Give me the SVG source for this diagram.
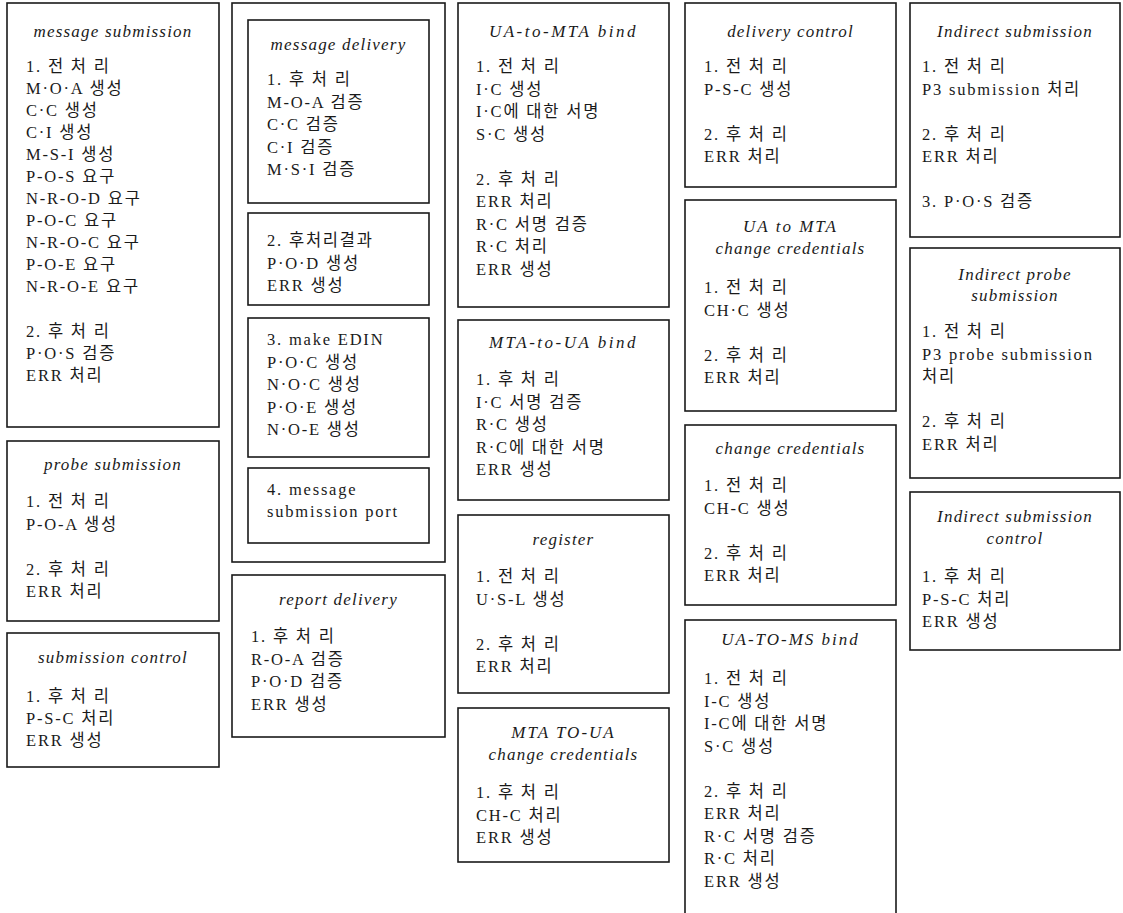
<svg xmlns="http://www.w3.org/2000/svg" width="1123" height="913" viewBox="0 0 1123 913">
<style>
.bx{fill:#fff;stroke:#1a1a1a;stroke-width:1.6}
.t{font-family:"Liberation Serif","Noto Sans CJK KR",serif;font-size:16.5px;fill:#1a1a1a;letter-spacing:1.8px}
.h{font-family:"Liberation Serif","Noto Sans CJK KR",serif;font-size:17px;font-style:italic;fill:#1a1a1a;text-anchor:middle;letter-spacing:1.2px}
</style>
<rect width="1123" height="913" fill="#fff"/>
<g id="connectors"/>

<g id="message-submission">
<rect class="bx" x="7" y="3" width="212" height="424"/>
<text class="h" x="113" y="37">message submission</text>
<text class="t" x="26" y="72">1. 전 처 리</text>
<text class="t" x="26" y="94">M·O·A 생성</text>
<text class="t" x="26" y="116">C·C 생성</text>
<text class="t" x="26" y="138">C·I 생성</text>
<text class="t" x="26" y="160">M-S-I 생성</text>
<text class="t" x="26" y="182">P-O-S 요구</text>
<text class="t" x="26" y="204">N-R-O-D 요구</text>
<text class="t" x="26" y="226">P-O-C 요구</text>
<text class="t" x="26" y="248">N-R-O-C 요구</text>
<text class="t" x="26" y="270">P-O-E 요구</text>
<text class="t" x="26" y="292">N-R-O-E 요구</text>
<text class="t" x="26" y="337">2. 후 처 리</text>
<text class="t" x="26" y="359">P·O·S 검증</text>
<text class="t" x="26" y="381">ERR 처리</text>
</g>

<g id="probe-submission">
<rect class="bx" x="7" y="441" width="212" height="180"/>
<text class="h" x="113" y="470">probe submission</text>
<text class="t" x="26" y="507">1. 전 처 리</text>
<text class="t" x="26" y="529.5">P-O-A 생성</text>
<text class="t" x="26" y="574.5">2. 후 처 리</text>
<text class="t" x="26" y="597">ERR 처리</text>
</g>

<g id="submission-control">
<rect class="bx" x="7" y="633" width="212" height="134"/>
<text class="h" x="113" y="663">submission control</text>
<text class="t" x="26" y="702">1. 후 처 리</text>
<text class="t" x="26" y="724">P-S-C 처리</text>
<text class="t" x="26" y="746">ERR 생성</text>
</g>

<g id="message-delivery-group">
<rect class="bx" x="232" y="3" width="213" height="559"/>
<g id="message-delivery">
<rect class="bx" x="248" y="20" width="181" height="183"/>
<text class="h" x="338.5" y="50">message delivery</text>
<text class="t" x="267" y="85">1. 후 처 리</text>
<text class="t" x="267" y="107.5">M-O-A 검증</text>
<text class="t" x="267" y="130">C·C 검증</text>
<text class="t" x="267" y="152.5">C·I 검증</text>
<text class="t" x="267" y="175">M·S·I 검증</text>
</g>
<g id="post-result">
<rect class="bx" x="248" y="213" width="181" height="92"/>
<text class="t" x="267" y="246">2. 후처리결과</text>
<text class="t" x="267" y="268.5">P·O·D 생성</text>
<text class="t" x="267" y="291">ERR 생성</text>
</g>
<g id="make-edin">
<rect class="bx" x="248" y="318" width="181" height="139"/>
<text class="t" x="267" y="345">3. make EDIN</text>
<text class="t" x="267" y="367.5">P·O·C 생성</text>
<text class="t" x="267" y="390">N·O·C 생성</text>
<text class="t" x="267" y="412.5">P·O·E 생성</text>
<text class="t" x="267" y="435">N·O-E 생성</text>
</g>
<g id="submission-port">
<rect class="bx" x="248" y="468" width="181" height="75"/>
<text class="t" x="267" y="495">4. message</text>
<text class="t" x="267" y="517">submission port</text>
</g>
</g>

<g id="report-delivery">
<rect class="bx" x="232" y="575" width="213" height="162"/>
<text class="h" x="338.5" y="605">report delivery</text>
<text class="t" x="251" y="642">1. 후 처 리</text>
<text class="t" x="251" y="665">R-O-A 검증</text>
<text class="t" x="251" y="687">P·O·D 검증</text>
<text class="t" x="251" y="710">ERR 생성</text>
</g>

<g id="ua-to-mta-bind">
<rect class="bx" x="458" y="3" width="211" height="304"/>
<text class="h" x="563.5" y="37" style="letter-spacing:2.5px">UA-to-MTA bind</text>
<text class="t" x="476" y="72">1. 전 처 리</text>
<text class="t" x="476" y="94.5">I·C 생성</text>
<text class="t" x="476" y="117">I·C에 대한 서명</text>
<text class="t" x="476" y="139.5">S·C 생성</text>
<text class="t" x="476" y="184.5">2. 후 처 리</text>
<text class="t" x="476" y="207">ERR 처리</text>
<text class="t" x="476" y="229.5">R·C 서명 검증</text>
<text class="t" x="476" y="252">R·C 처리</text>
<text class="t" x="476" y="274.5">ERR 생성</text>
</g>

<g id="mta-to-ua-bind">
<rect class="bx" x="458" y="320" width="211" height="180"/>
<text class="h" x="563.5" y="348" style="letter-spacing:2.5px">MTA-to-UA bind</text>
<text class="t" x="476" y="385">1. 후 처 리</text>
<text class="t" x="476" y="407.5">I·C 서명 검증</text>
<text class="t" x="476" y="430">R·C 생성</text>
<text class="t" x="476" y="452.5">R·C에 대한 서명</text>
<text class="t" x="476" y="475">ERR 생성</text>
</g>

<g id="register">
<rect class="bx" x="458" y="515" width="211" height="178"/>
<text class="h" x="563.5" y="545">register</text>
<text class="t" x="476" y="582">1. 전 처 리</text>
<text class="t" x="476" y="604.5">U·S-L 생성</text>
<text class="t" x="476" y="649.5">2. 후 처 리</text>
<text class="t" x="476" y="672">ERR 처리</text>
</g>

<g id="mta-to-ua-change-credentials">
<rect class="bx" x="458" y="708" width="211" height="154"/>
<text class="h" x="563.5" y="738" style="letter-spacing:2px">MTA TO-UA</text>
<text class="h" x="563.5" y="760">change credentials</text>
<text class="t" x="476" y="798">1. 후 처 리</text>
<text class="t" x="476" y="820.5">CH-C 처리</text>
<text class="t" x="476" y="843">ERR 생성</text>
</g>

<g id="delivery-control">
<rect class="bx" x="685" y="3" width="211" height="184"/>
<text class="h" x="790.5" y="37">delivery control</text>
<text class="t" x="704" y="72">1. 전 처 리</text>
<text class="t" x="704" y="94.5">P-S-C 생성</text>
<text class="t" x="704" y="139.5">2. 후 처 리</text>
<text class="t" x="704" y="162">ERR 처리</text>
</g>

<g id="ua-to-mta-change-credentials">
<rect class="bx" x="685" y="200" width="211" height="211"/>
<text class="h" x="790.5" y="232" style="letter-spacing:2px">UA to MTA</text>
<text class="h" x="790.5" y="254">change credentials</text>
<text class="t" x="704" y="293">1. 전 처 리</text>
<text class="t" x="704" y="315.5">CH·C 생성</text>
<text class="t" x="704" y="360.5">2. 후 처 리</text>
<text class="t" x="704" y="383">ERR 처리</text>
</g>

<g id="change-credentials">
<rect class="bx" x="685" y="425" width="211" height="180"/>
<text class="h" x="790.5" y="454">change credentials</text>
<text class="t" x="704" y="491">1. 전 처 리</text>
<text class="t" x="704" y="513.5">CH-C 생성</text>
<text class="t" x="704" y="558.5">2. 후 처 리</text>
<text class="t" x="704" y="581">ERR 처리</text>
</g>

<g id="ua-to-ms-bind">
<rect class="bx" x="685" y="620" width="211" height="310"/>
<text class="h" x="790.5" y="645" style="letter-spacing:2px">UA-TO-MS bind</text>
<text class="t" x="704" y="684">1. 전 처 리</text>
<text class="t" x="704" y="706.5">I-C 생성</text>
<text class="t" x="704" y="729">I-C에 대한 서명</text>
<text class="t" x="704" y="751.5">S·C 생성</text>
<text class="t" x="704" y="796.5">2. 후 처 리</text>
<text class="t" x="704" y="819">ERR 처리</text>
<text class="t" x="704" y="841.5">R·C 서명 검증</text>
<text class="t" x="704" y="864">R·C 처리</text>
<text class="t" x="704" y="886.5">ERR 생성</text>
</g>

<g id="indirect-submission">
<rect class="bx" x="910" y="3" width="210" height="234"/>
<text class="h" x="1015" y="37">Indirect submission</text>
<text class="t" x="922" y="72">1. 전 처 리</text>
<text class="t" x="922" y="94.5">P3 submission 처리</text>
<text class="t" x="922" y="139.5">2. 후 처 리</text>
<text class="t" x="922" y="162">ERR 처리</text>
<text class="t" x="922" y="207">3. P·O·S 검증</text>
</g>

<g id="indirect-probe-submission">
<rect class="bx" x="910" y="248" width="210" height="230"/>
<text class="h" x="1015" y="280">Indirect probe</text>
<text class="h" x="1015" y="301">submission</text>
<text class="t" x="922" y="337">1. 전 처 리</text>
<text class="t" x="922" y="359.5">P3 probe submission</text>
<text class="t" x="922" y="382">처리</text>
<text class="t" x="922" y="427">2. 후 처 리</text>
<text class="t" x="922" y="449.5">ERR 처리</text>
</g>

<g id="indirect-submission-control">
<rect class="bx" x="910" y="492" width="210" height="158"/>
<text class="h" x="1015" y="522">Indirect submission</text>
<text class="h" x="1015" y="544">control</text>
<text class="t" x="922" y="582">1. 후 처 리</text>
<text class="t" x="922" y="604.5">P-S-C 처리</text>
<text class="t" x="922" y="627">ERR 생성</text>
</g>
</svg>
